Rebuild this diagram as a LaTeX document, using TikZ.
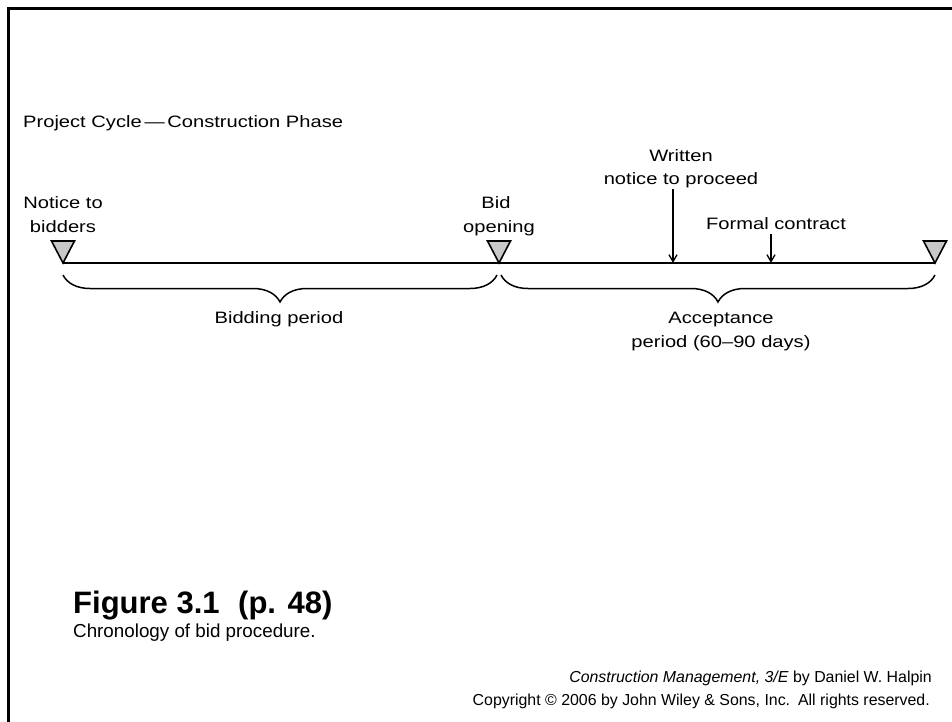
\documentclass[tikz,border=0pt]{standalone}
\usepackage{fontspec}
\setmainfont{Liberation Sans}
\newfontfamily\lblfont[FakeStretch=1.22,Ligatures=TeX]{Liberation Sans}
\usetikzlibrary{arrows.meta,decorations.pathreplacing}
\definecolor{trigray}{RGB}{200,200,200}
\begin{document}
\begin{tikzpicture}[x=1pt,y=-1pt,
  lbl/.style={inner sep=0pt,anchor=base,font=\lblfont\fontsize{16.5}{19}\selectfont},
  tri/.style={draw=black,fill=trigray,line width=1.6pt,line join=miter},
  timeline/.style={line width=2.6pt},
  ptr/.style={line width=1.3pt,-{Straight Barb[length=7pt,width=8pt,line width=1.3pt]}},
  brc/.style={decorate,decoration={brace,mirror,amplitude=27pt},line width=1.5pt},
  frame/.style={line width=3pt,line cap=rect}]
\useasboundingbox (0,0) rectangle (952,722);
\fill[white] (0,0) rectangle (952,722);
% frame
\draw[frame] (8.5,730) -- (8.5,8.5) -- (960,8.5);
% title
\node[lbl,anchor=base west] (title) at (23,128) {Project Cycle\,\textemdash\,Construction Phase};
% timeline points
\coordinate (t1) at (63,263);
\coordinate (t2) at (499,263);
\coordinate (t3) at (935,263);
\coordinate (wn) at (673,263);
\coordinate (fc) at (771,263);
\draw[timeline] (t1) -- (t3);
% triangles
\foreach \p in {t1,t2,t3}{
  \draw[tri] (\p) -- ++(-11.5,-22) -- ++(23,0) -- cycle;
}
% labels above
\node[lbl] (n1) at (63,208) {Notice to};
\node[lbl] (n2) at (63,232) {bidders};
\node[lbl] (b1) at (496,208) {Bid};
\node[lbl] (b2) at (499,232) {opening};
\node[lbl] (w1) at (681,162) {Written};
\node[lbl] (w2) at (681,185) {notice to proceed};
\node[lbl] (f1) at (776,229) {Formal contract};
\coordinate (wtop) at (673,189);
\coordinate (ftop) at (771,234);
\draw[ptr] (wtop) -- (wn);
\draw[ptr] (ftop) -- (fc);
% braces
\coordinate (bl) at (63,275);
\coordinate (bml) at (497,275);
\coordinate (bmr) at (501,275);
\coordinate (br) at (935,275);
\draw[brc] (bl) -- (bml);
\draw[brc] (bmr) -- (br);
\node[lbl] (bp) at (279,323) {Bidding period};
\node[lbl] (a1) at (721,323) {Acceptance};
\node[lbl] (a2) at (721,347) {period (60\textendash 90 days)};
% caption
\node[inner sep=0pt,anchor=base west,font=\bfseries\fontsize{31}{35}\selectfont] (fig) at (73,613) {Figure 3.1\hspace{0.6em}(p. 48)};
\node[inner sep=0pt,anchor=base west,font=\fontsize{18.8}{22}\selectfont] (cap) at (73,637) {Chronology of bid procedure.};
% footer
\node[inner sep=0pt,anchor=base east,font=\fontsize{15.9}{18}\selectfont] (cr1) at (932,682) {\textit{Construction Management, 3/E} by Daniel W. Halpin};
\node[inner sep=0pt,anchor=base east,font=\fontsize{15.9}{18}\selectfont] (cr2) at (930,705) {Copyright \textcopyright{} 2006 by John Wiley \& Sons, Inc.\hspace{0.5em}All rights reserved.};
\end{tikzpicture}
\end{document}
